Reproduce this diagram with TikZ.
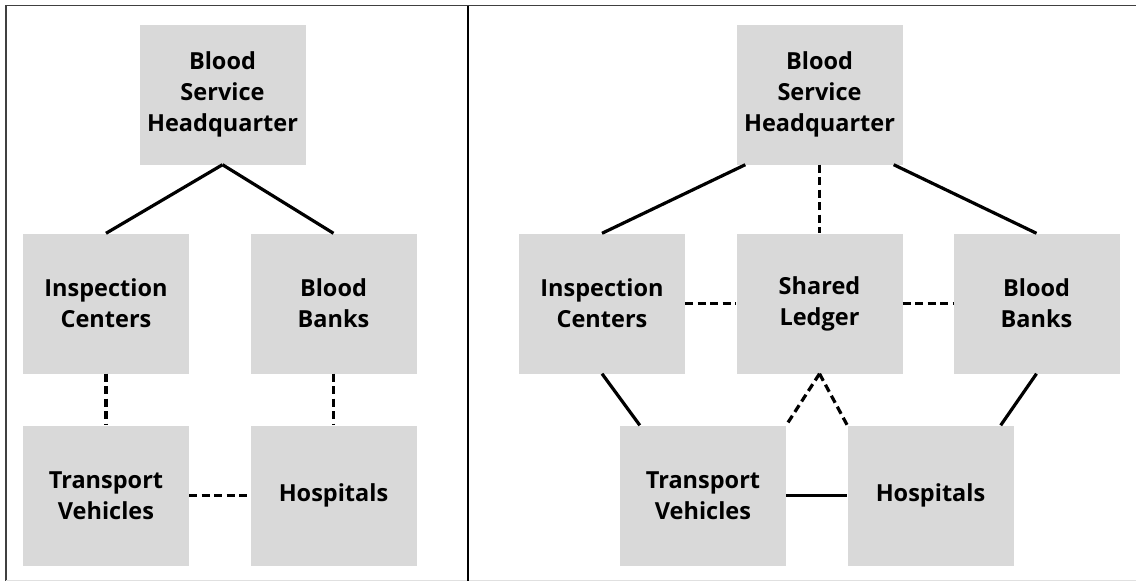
\documentclass[tikz,border=0pt]{standalone}
\usepackage{fontspec}
\setmainfont{Open Sans}[BoldFont={* Bold}]
\usetikzlibrary{calc}
\begin{document}
\begin{tikzpicture}[x=1pt,y=-1pt,
  unit/.style={fill=boxgray, draw=none, minimum width=166pt, minimum height=140pt,
    inner sep=0pt, align=center, font=\fontsize{23.5}{31}\selectfont\bfseries},
  link/.style={line width=3.2pt, black},
  dlink/.style={line width=3.2pt, black, dash pattern=on 8pt off 4.5pt},
]
\definecolor{boxgray}{HTML}{D9D9D9}
\useasboundingbox (0,0) rectangle (1136,581);

% frame and divider
\draw[line width=1.6pt, black!75] (6,581) -- (6,5.5) -- (1136,5.5);
\draw[line width=0.8pt, black!12] (6,580) -- (1136,580);
\draw[line width=2pt, black] (468,5.5) -- (468,581);

% left: conventional hierarchy
\node[unit] (lhq) at (222.5,94.5) {Blood\\Service\\Headquarter};
\node[unit] (lic) at (106,303.5) {Inspection\\Centers};
\node[unit] (lbb) at (333.5,303.5) {Blood\\Banks};
\node[unit] (ltv) at (106,495.5) {Transport\\Vehicles};
\node[unit] (lho) at (333.5,495.5) {Hospitals};

\draw[link] (lhq.south) -- (lic.north);
\draw[link] (lhq.south) -- (lbb.north);
\draw[dlink] (lic.south) -- (ltv.north);
\draw[dlink] (lbb.south) -- (lho.north);
\draw[dlink] (ltv.east) -- (lho.west);

% right: shared ledger network
\node[unit] (rhq) at (819.5,94.5) {Blood\\Service\\Headquarter};
\node[unit] (ric) at (602,303.5) {Inspection\\Centers};
\node[unit] (rsl) at (819.5,303.5) {Shared\\Ledger};
\node[unit] (rbb) at (1036.5,303.5) {Blood\\Banks};
\node[unit] (rtv) at (703,495.5) {Transport\\Vehicles};
\node[unit] (rho) at (930.5,495.5) {Hospitals};

\draw[link] ($(rhq.south west)+(9,0)$) -- (ric.north);
\draw[link] ($(rhq.south east)+(-9,0)$) -- (rbb.north);
\draw[dlink] (rhq.south) -- (rsl.north);
\draw[dlink] (ric.east) -- (rsl.west);
\draw[dlink] (rsl.east) -- (rbb.west);
\draw[link] (ric.south) -- ($(rtv.north west)+(20,0)$);
\draw[link] (rbb.south) -- ($(rho.north east)+(-13,0)$);
\draw[dlink] (rsl.south) -- (rtv.north east);
\draw[dlink] (rsl.south) -- (rho.north west);
\draw[link] (rtv.east) -- (rho.west);
\end{tikzpicture}
\end{document}
